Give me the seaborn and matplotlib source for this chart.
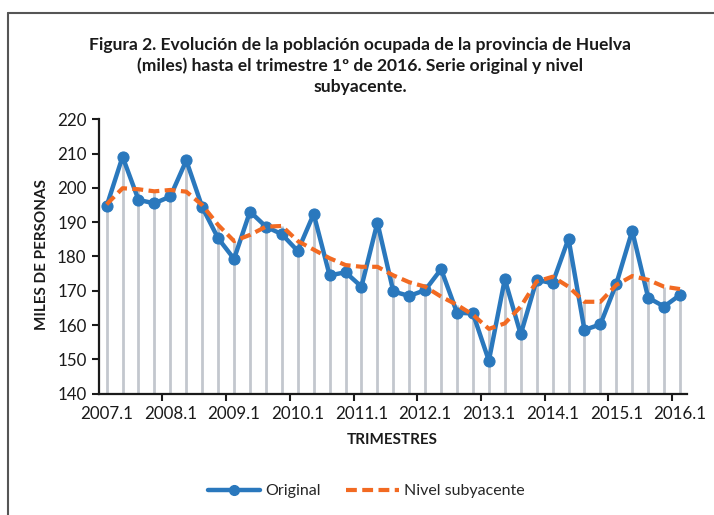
import numpy as np
import pandas as pd
import matplotlib
matplotlib.use("Agg")
import matplotlib.pyplot as plt
import seaborn as sns
from matplotlib.lines import Line2D

# quarters 2007.1 .. 2016.1
quarters = [f"{y}.{q}" for y in range(2007, 2017) for q in range(1, 5)][:37]
year_labels = ["2007.1", "2008.1", "2009.1", "2010.1", "2011.1",
               "2012.1", "2013.1", "2014.1", "2015.1", "2016.1"]

original = [194.7, 209.1, 196.5, 195.5, 197.5, 208.0, 194.4, 185.3, 179.3, 193.1,
            188.7, 186.5, 181.6, 192.4, 174.5, 175.4, 171.2, 189.9, 169.8, 168.5,
            170.2, 176.3, 163.6, 163.4, 149.6, 173.4, 157.3, 173.2, 172.2, 185.2,
            158.6, 160.2, 172.0, 187.5, 168.0, 165.4, 168.8]
nivel = [195.2, 199.9, 199.6, 199.0, 199.4, 198.9, 195.0, 189.2, 184.5, 186.3,
         188.7, 188.9, 184.5, 182.0, 179.5, 177.5, 177.0, 177.0, 174.5, 172.5,
         171.2, 168.3, 165.9, 163.0, 158.9, 160.5, 165.4, 172.7, 174.1, 171.2,
         166.8, 166.8, 171.7, 174.3, 173.2, 171.2, 170.5]

df = pd.DataFrame({"trimestre": quarters, "pos": range(len(quarters)),
                   "Original": original, "Nivel subyacente": nivel})

sns.set_style("ticks")
plt.rcParams["font.family"] = ["Lato", "DejaVu Sans"]

BLUE = "#2A78BD"
ORANGE = "#F26A22"
DROP = "#C3C7CE"
TXT = "#1a1a1a"
DASH = (0, (2.6, 1.3))

fig = plt.figure(figsize=(7.14, 5.15), dpi=100)
ax = fig.add_axes([99 / 714, 1 - 393.7 / 515, 588 / 714, 274.4 / 515])

# drop lines up to the highest series
ax.vlines(df["pos"], 140, np.maximum(df["Original"], df["Nivel subyacente"]),
          color=DROP, lw=2.0, zorder=1)

sns.lineplot(data=df, x="pos", y="Original", ax=ax, color=BLUE, lw=3.2,
             marker="o", markersize=8, markeredgecolor=BLUE, zorder=3)
sns.lineplot(data=df, x="pos", y="Nivel subyacente", ax=ax, color=ORANGE,
             lw=3.0, zorder=4)
ax.lines[-1].set_linestyle(DASH)

ax.set_xlim(-0.48, 36.44)
ax.set_ylim(140, 220)
ax.set_yticks(range(140, 221, 10))
ax.set_xticks(np.arange(3.5, 36, 4))
ax.set_xticklabels([])
ax.set_xticks(np.arange(0, 37, 4), minor=True)
ax.set_xticklabels(year_labels, minor=True)
ax.tick_params(axis="x", which="minor", length=0, pad=9)
ax.tick_params(axis="x", which="major", length=5, width=1.5, direction="out", color=TXT)
ax.tick_params(axis="y", length=5, width=1.5, direction="out", color=TXT, pad=4)
ax.tick_params(axis="both", which="both", labelsize=12.2, labelcolor=TXT)
ax.set_xlabel("")
ax.set_ylabel("")
for s in ["top", "right"]:
    ax.spines[s].set_visible(False)
for s in ["left", "bottom"]:
    ax.spines[s].set_linewidth(1.6)
    ax.spines[s].set_color(TXT)

fig.text(0.504, 1 - 66 / 515,
         "Figura 2. Evolución de la población ocupada de la provincia de Huelva\n"
         "(miles) hasta el trimestre 1º de 2016. Serie original y nivel\n"
         "subyacente.",
         ha="center", va="center", fontsize=12.6, fontweight="bold",
         color=TXT, linespacing=1.38)
fig.text(392 / 714, 1 - 440 / 515, "TRIMESTRES", ha="center", va="center",
         fontsize=11, fontweight="bold", color=TXT)
fig.text(42 / 714, 1 - 255 / 515, "MILES DE PERSONAS", ha="center", va="center",
         rotation=90, fontsize=11, fontweight="bold", color=TXT)

handles = [Line2D([], [], color=BLUE, lw=3.2, marker="o", markersize=7),
           Line2D([], [], color=ORANGE, lw=3.0, linestyle=DASH)]
fig.legend(handles, ["Original", "Nivel subyacente"], loc="center",
           bbox_to_anchor=(366 / 714, 1 - 491 / 515), ncol=2, frameon=False,
           fontsize=11.5, handlelength=3.3, handletextpad=0.3, columnspacing=1.6)

# frame around the figure (left and top edges)
fig.add_artist(Line2D([8 / 714, 8 / 714], [0, 1 - 13 / 515], color="#555555",
                      lw=1.5, transform=fig.transFigure))
fig.add_artist(Line2D([8 / 714, 1], [1 - 13 / 515, 1 - 13 / 515], color="#555555",
                      lw=1.5, transform=fig.transFigure))

fig.savefig("out.png", dpi=100)
